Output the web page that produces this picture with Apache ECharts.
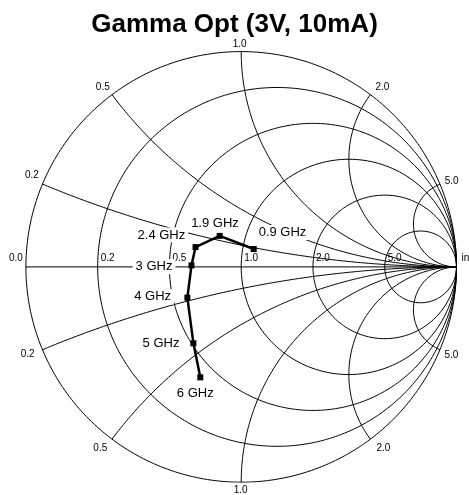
<!DOCTYPE html>
<html><head><meta charset="utf-8">
<script src="https://cdn.jsdelivr.net/npm/echarts@6/dist/echarts.min.js"></script>
<style>html,body{margin:0;padding:0;background:#fff}#c{width:469px;height:495px}</style>
</head><body><div id="c"></div>
<script>
// ---- data ----
const RESISTANCE_CIRCLES = [0.2, 0.5, 1, 2, 5];
const REACTANCE_ARCS = [0.2, 0.5, 1, 2, 5];
const REAL_AXIS_TICKS = [0, 0.2, 0.5, 1, 2, 5, Infinity];
const REAL_AXIS_LABELS = ['0.0', '0.2', '0.5', '1.0', '2.0', '5.0', 'inf'];
const REACTANCE_LABELS = ['0.2', '0.5', '1.0', '2.0', '5.0'];
const FREQ_LABELS = ['0.9 GHz', '1.9 GHz', '2.4 GHz', '3 GHz', '4 GHz', '5 GHz', '6 GHz'];
const GAMMA_RE = [0.058, -0.100, -0.212, -0.231, -0.250, -0.222, -0.190];
const GAMMA_IM = [0.083, 0.144, 0.092, 0.007, -0.143, -0.355, -0.513];

// ---- layout / style ----
const CX = 241.2, CY = 266.9, RAD = 215.3;
const FONT_NAME = "'Liberation Sans', Arial, sans-serif";
const reactUpOff = [[-10.5, -8.4], [-9.2, -7.5], [-1.5, -7.5], [12, -7.5], [11.7, -2.4]];
const reactDnOff = [[-14.8, 4.5], [-11.7, 9.5], [-0.5, 8.5], [13, 9.5], [11.5, 5.5]];
const freqLabelStyle = [
  {align: 'left', off: [2, -16.5]},
  {align: 'center', off: [-4.7, -12.4]},
  {align: 'right', off: [-7.3, -12]},
  {align: 'right', off: [-16, 1]},
  {align: 'right', off: [-13.3, -1]},
  {align: 'right', off: [-11, 0]},
  {align: 'center', off: [-5, 16]}
];

function arc(cx, cy, rho, t0, t1, n) {
  const pts = [];
  for (let i = 0; i <= n; i++) {
    const t = t0 + (t1 - t0) * i / n;
    pts.push([cx + rho * Math.cos(t), cy + rho * Math.sin(t)]);
  }
  return pts;
}
function gridLine(data) {
  return {type: 'line', data, showSymbol: false, symbol: 'none', silent: true,
    lineStyle: {color: '#000', width: 1}, z: 1, animation: false};
}
const series = [];
series.push(gridLine(arc(0, 0, 1, 0, 2 * Math.PI, 360)));
series.push(gridLine([[-1, 0], [1, 0]]));
RESISTANCE_CIRCLES.forEach(r => {
  series.push(gridLine(arc(r / (r + 1), 0, 1 / (r + 1), 0, 2 * Math.PI, 360)));
});
function endPoint(x) { return [(x * x - 1) / (x * x + 1), 2 * x / (x * x + 1)]; }
REACTANCE_ARCS.forEach(x => {
  let te = Math.atan2((x * x - 1) / x, -2);
  if (te > -Math.PI / 2) te -= 2 * Math.PI;
  const up = arc(1, 1 / x, 1 / x, -Math.PI / 2, te, 300);
  series.push(gridLine(up));
  series.push(gridLine(up.map(p => [p[0], -p[1]])));
});
const gridLabelPts = [];
const gridLabelSpec = [];
REAL_AXIS_TICKS.forEach((r, i) => {
  const g = isFinite(r) ? (r - 1) / (r + 1) : 1;
  gridLabelPts.push([g, 0]);
  const dx = r === 0 ? -3 : (isFinite(r) ? 3 : 5);
  gridLabelSpec.push({text: REAL_AXIS_LABELS[i], align: r === 0 ? 'right' : 'left', off: [dx, -8.5]});
});
REACTANCE_ARCS.forEach((x, i) => {
  const p = endPoint(x);
  gridLabelPts.push(p);
  gridLabelSpec.push({text: REACTANCE_LABELS[i], align: 'center', off: reactUpOff[i]});
  gridLabelPts.push([p[0], -p[1]]);
  gridLabelSpec.push({text: REACTANCE_LABELS[i], align: 'center', off: reactDnOff[i]});
});
series.push({type: 'custom', data: gridLabelPts, silent: true, animation: false, z: 2,
  renderItem: function (params, api) {
    const s = gridLabelSpec[params.dataIndex];
    const pt = api.coord([api.value(0), api.value(1)]);
    return {type: 'text', x: pt[0] + s.off[0], y: pt[1] + s.off[1],
      style: {text: s.text, align: s.align, verticalAlign: 'middle',
        fill: '#000', fontSize: 10, fontFamily: FONT_NAME}};
  }});
const measData = GAMMA_RE.map((re, i) => ({
  value: [re, GAMMA_IM[i]],
  label: {formatter: FREQ_LABELS[i], align: freqLabelStyle[i].align, offset: freqLabelStyle[i].off}
}));
series.push({type: 'line', data: measData, symbol: 'rect', symbolSize: 6, showSymbol: true,
  silent: true, animation: false, z: 5,
  itemStyle: {color: '#000'}, lineStyle: {color: '#000', width: 2.5},
  label: {show: true, position: 'inside', verticalAlign: 'middle', color: '#000',
    fontSize: 13, fontFamily: FONT_NAME, backgroundColor: '#fff', padding: [1, 3, 1, 3]}});

const chart = echarts.init(document.getElementById('c'), null, {renderer: 'canvas'});
chart.setOption({
  animation: false,
  backgroundColor: '#fff',
  title: {text: 'Gamma Opt (3V, 10mA)', left: 'center', top: 7,
    textStyle: {fontSize: 26, fontWeight: 'bold', color: '#000', fontFamily: FONT_NAME}},
  grid: {left: CX - RAD, top: CY - RAD, width: 2 * RAD, height: 2 * RAD},
  xAxis: {type: 'value', min: -1, max: 1, show: false},
  yAxis: {type: 'value', min: -1, max: 1, show: false},
  series
});
</script></body></html>
